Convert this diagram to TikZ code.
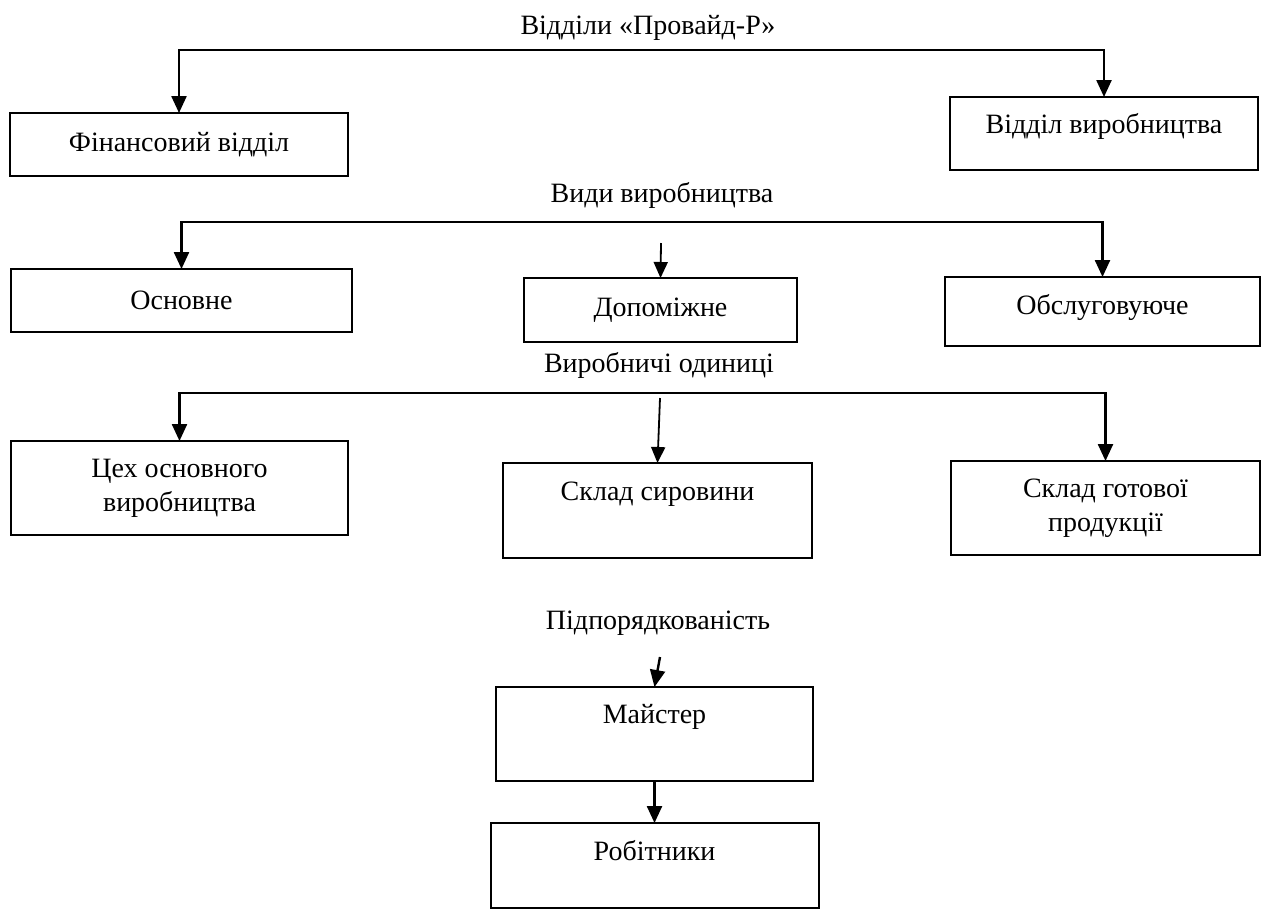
\documentclass[tikz,border=0pt]{standalone}
\usepackage{fontspec}
\setmainfont{Liberation Serif}
\usetikzlibrary{arrows.meta,positioning}

\begin{document}
\begin{tikzpicture}[
        x = 0.5pt, y = -0.5pt,
        every node/.style = {font=\fontsize{14}{17}\selectfont, inner sep=0pt, outer sep=0pt},
        box/.style = {draw, line width=1pt, align=center, anchor=center},
        topbox/.style = {draw, line width=1pt, anchor=north},
        link/.style = {line width=1.2pt, -{Triangle[length=8.5pt,width=7.5pt]}},
        loose/.style = {line width=0.9pt, -{Triangle[length=8pt,width=7pt]}}
    ]
        \useasboundingbox (0,0) rectangle (1264,912);
%
        \node (viddily)  at (648,28)   {Відділи «Провайд-Р»};
        \coordinate (bus1) at (640,50);
        \node (fin) [box, minimum width=169pt, minimum height=31.5pt] at (179,144.5) {Фінансовий відділ};
        \node (vyr) [topbox, minimum width=154pt, text height=18pt, text depth=18.5pt] at (1104,97) {Відділ виробництва};
%
        \node (vydy)     at (662,195)  {Види виробництва};
        \coordinate (bus2) at (640,222);
        \coordinate (dop0) at (661,243);
        \node (osn) [box, minimum width=170.5pt, minimum height=31.5pt] at (181.5,300.5) {Основне};
        \node (dop) [box, minimum width=136.5pt, minimum height=32pt] at (660.5,310) {Допоміжне};
        \node (obs) [topbox, minimum width=157.5pt, text height=18.5pt, text depth=16pt] at (1102.5,277) {Обслуговуюче};
%
        \node (odyn)     at (659,365)  {Виробничі одиниці};
        \coordinate (bus3) at (640,393);
        \coordinate (syr0) at (660,398);
        \node (tsekh) [box, minimum width=168.5pt, minimum height=47pt] at (179.5,488) {Цех основного\\виробництва};
        \node (syr) [topbox, minimum width=154.5pt, text height=18.5pt, text depth=29pt] at (657.5,463) {Склад сировини};
        \node (got) [box, minimum width=154.5pt, minimum height=47pt] at (1105.5,508) {Склад готової\\продукції};
%
        \node (pidp)     at (658,623)  {Підпорядкованість};
        \coordinate (maj0) at (660,657);
        \node (maj) [topbox, minimum width=158.5pt, text height=18pt, text depth=29pt] at (654.5,687) {Майстер};
        \node (rob) [topbox, minimum width=164pt, text height=18.5pt, text depth=24pt] at (654.5,823) {Робітники};
%
        \draw[link] (bus1) -| (fin.north);
        \draw[link] (bus1) -| (vyr.north);
        \draw[link] (bus2) -| (osn.north);
        \draw[link] (bus2) -| (obs.north);
        \draw[loose] (dop0) -- (dop.north);
        \draw[link] (bus3) -| (tsekh.north);
        \draw[link] (bus3) -| (got.north);
        \draw[loose] (syr0) -- (syr.north);
        \draw[link] (maj0) -- (maj.north);
        \draw[link] (maj.south) -- (rob.north);
    \end{tikzpicture}
\end{document}
